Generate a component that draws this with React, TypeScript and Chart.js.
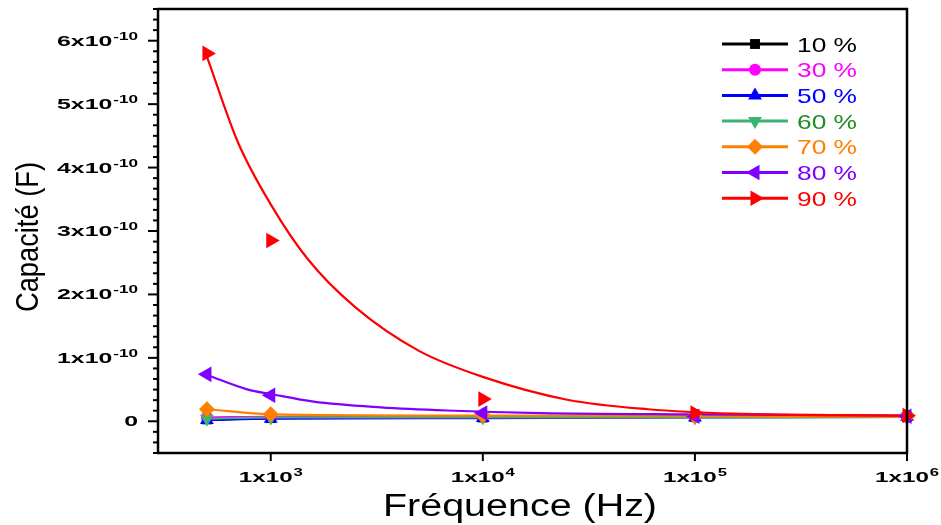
import React, { useEffect, useRef } from 'react';
import { Chart, registerables } from 'chart.js';
import { drawPoint } from 'chart.js/helpers';

Chart.register(...registerables);

// ---- data (capacitance in F, frequency in Hz) ----
const freq = [500, 1000, 10000, 100000, 1000000];
const c10 = [3e-12, 5e-12, 6e-12, 7e-12, 7e-12];
const c30 = [6e-12, 7e-12, 7e-12, 7e-12, 8e-12];
const c50 = [2e-12, 4e-12, 5e-12, 6e-12, 7e-12];
const c60 = [4e-12, 6e-12, 6e-12, 6e-12, 7e-12];
const c70 = [1.9e-11, 1.1e-11, 9e-12, 8e-12, 7e-12];
const c80 = [7.4e-11, 4.1e-11, 1.3e-11, 8e-12, 8e-12];
const c90 = [5.8e-10, 2.85e-10, 3.5e-11, 1.3e-11, 9e-12];

// fitted curves
const fitFreq80 = [500, 780, 1000, 1590, 3300, 6800, 18700, 100000, 1000000];
const fit80 = [7.3e-11, 5.0e-11, 4.3e-11, 3.1e-11, 2.2e-11, 1.7e-11, 1.3e-11, 1.1e-11, 9e-12];
const fitFreq90 = [500, 700, 1000, 1500, 2500, 5000, 10000, 25000, 60000, 150000, 1000000];
const fit90 = [5.75e-10, 4.4e-10, 3.42e-10, 2.55e-10, 1.8e-10, 1.11e-10, 7.0e-11, 3.4e-11, 1.9e-11, 1.2e-11, 9e-12];

const seriesLabels = ['10 %', '30 %', '50 %', '60 %', '70 %', '80 %', '90 %'];
const seriesValues = [c10, c30, c50, c60, c70, c80, c90];

const yMajorTicks = [0, 1e-10, 2e-10, 3e-10, 4e-10, 5e-10, 6e-10];
const yTickCoefs = ['0', '1', '2', '3', '4', '5', '6'];
const yTickExp = '-10';
const xMajorTicks = [1e3, 1e4, 1e5, 1e6];
const xTickExps = ['3', '4', '5', '6'];
const xTitle = 'Fréquence (Hz)';
const yTitle = 'Capacité (F)';

// ---- styles ----
const lineColors = ['#000000', '#FF00FF', '#0000FF', '#3CB371', '#FF8000', '#8000FF', '#FF0000'];
const textColors = ['#000000', '#FF00FF', '#0000FF', '#228B22', '#FF8000', '#8000FF', '#FF0000'];
const pointStyles = ['rect', 'circle', 'triangle', 'triangle', 'rectRot', 'triangle', 'triangle'];
const rotations = [0, 0, 0, 180, 0, -90, 90];
const radii = [7, 6, 8, 8, 8, 9, 9];

const FONT = '"Liberation Sans", Arial, Helvetica, sans-serif';

function measureSup(ctx: CanvasRenderingContext2D, base: string, sup: string, mainPx: number, supPx: number) {
  ctx.font = `bold ${mainPx}px ${FONT}`;
  const wb = ctx.measureText(base).width;
  let ws = 0;
  if (sup) {
    ctx.font = `bold ${supPx}px ${FONT}`;
    ws = ctx.measureText(sup).width + 0.5;
  }
  return { wb, ws, total: wb + ws };
}

function paintSup(ctx: CanvasRenderingContext2D, base: string, sup: string, x: number, baseline: number, sx: number, mainPx: number, supPx: number, rise: number) {
  const m = measureSup(ctx, base, sup, mainPx, supPx);
  ctx.save();
  ctx.translate(x, baseline);
  ctx.scale(sx, 1);
  ctx.textAlign = 'left';
  ctx.textBaseline = 'alphabetic';
  ctx.font = `bold ${mainPx}px ${FONT}`;
  ctx.fillText(base, 0, 0);
  if (sup) {
    ctx.font = `bold ${supPx}px ${FONT}`;
    ctx.fillText(sup, m.wb + 0.5, -rise);
  }
  ctx.restore();
}

const decorPlugin = {
  id: 'decor',
  afterDraw(chart: any) {
    const ctx: CanvasRenderingContext2D = chart.ctx;
    const { left, right, top, bottom } = chart.chartArea;
    const xs = chart.scales.x;
    const ys = chart.scales.y;
    ctx.save();
    ctx.fillStyle = '#000';
    ctx.strokeStyle = '#000';

    // frame
    ctx.lineWidth = 2.5;
    ctx.strokeRect(left, top, right - left, bottom - top);

    // y ticks
    ctx.lineWidth = 2;
    const step = 1e-10 / 6;
    for (let k = -3; k <= 39; k++) {
      const v = k * step;
      const py = ys.getPixelForValue(v);
      if (py < top - 1 || py > bottom + 1) continue;
      const major = k % 6 === 0;
      ctx.beginPath();
      ctx.moveTo(left - (major ? 10 : 5), py);
      ctx.lineTo(left, py);
      ctx.stroke();
    }
    // x ticks
    xMajorTicks.forEach((v) => {
      const px = xs.getPixelForValue(v);
      ctx.beginPath();
      ctx.moveTo(px, bottom);
      ctx.lineTo(px, bottom + 8);
      ctx.stroke();
    });

    // y labels
    const yMain = 14.5, ySup = 10, yRise = 6;
    const refY = measureSup(ctx, '6x10', yTickExp, yMain, ySup);
    const sxY = 81 / refY.total;
    yMajorTicks.forEach((v, i) => {
      const py = ys.getPixelForValue(v);
      const base = yTickCoefs[i] === '0' ? '0' : `${yTickCoefs[i]}x10`;
      const sup = yTickCoefs[i] === '0' ? '' : yTickExp;
      const m = measureSup(ctx, base, sup, yMain, ySup);
      const w = m.total * sxY;
      paintSup(ctx, base, sup, 138 - w, py + 5, sxY, yMain, ySup, yRise);
    });

    // x labels
    const xMain = 14.5, xSup = 10, xRise = 6;
    const refX = measureSup(ctx, '1x10', '3', xMain, xSup);
    const sxX = 64 / refX.total;
    xMajorTicks.forEach((v, i) => {
      const px = xs.getPixelForValue(v);
      const m = measureSup(ctx, '1x10', xTickExps[i], xMain, xSup);
      const w = m.total * sxX;
      paintSup(ctx, '1x10', xTickExps[i], px - w / 2, 482, sxX, xMain, xSup, xRise);
    });

    // x title
    ctx.font = `31px ${FONT}`;
    const wxt = ctx.measureText(xTitle).width;
    ctx.save();
    ctx.translate(520, 516);
    ctx.scale(274 / wxt, 1);
    ctx.textAlign = 'center';
    ctx.textBaseline = 'alphabetic';
    ctx.fillText(xTitle, 0, 0);
    ctx.restore();

    // y title
    ctx.font = `32px ${FONT}`;
    const wyt = ctx.measureText(yTitle).width;
    ctx.save();
    ctx.translate(38, 237);
    ctx.rotate(-Math.PI / 2);
    ctx.scale(150 / wyt, 1);
    ctx.textAlign = 'center';
    ctx.textBaseline = 'alphabetic';
    ctx.fillText(yTitle, 0, 0);
    ctx.restore();

    // legend
    ctx.font = `21px ${FONT}`;
    const wl = ctx.measureText('10 %').width;
    const sxL = 60 / wl;
    seriesLabels.forEach((lab, i) => {
      const ry = 44 + i * 25.7;
      ctx.strokeStyle = lineColors[i];
      ctx.lineWidth = 3;
      ctx.beginPath();
      ctx.moveTo(722, ry);
      ctx.lineTo(788, ry);
      ctx.stroke();
      ctx.fillStyle = lineColors[i];
      drawPoint(ctx, { pointStyle: pointStyles[i], rotation: rotations[i], radius: radii[i], borderWidth: 0 } as any, 755, ry);
      ctx.fillStyle = textColors[i];
      ctx.save();
      ctx.translate(797, ry + 7.5);
      ctx.scale(sxL, 1);
      ctx.font = `21px ${FONT}`;
      ctx.textAlign = 'left';
      ctx.textBaseline = 'alphabetic';
      ctx.fillText(lab, 0, 0);
      ctx.restore();
    });

    ctx.restore();
  },
};

export default function App() {
  const ref = useRef<HTMLCanvasElement | null>(null);
  useEffect(() => {
    if (!ref.current) return;
    const lineSets: any[] = seriesValues.map((vals, i) => {
      let fx = freq, fy = vals;
      if (i === 5) { fx = fitFreq80; fy = fit80; }
      if (i === 6) { fx = fitFreq90; fy = fit90; }
      return {
        type: 'line',
        label: seriesLabels[i] + ' fit',
        data: fx.map((f, j) => ({ x: f, y: fy[j] })),
        borderColor: lineColors[i],
        borderWidth: 2.2,
        pointRadius: 0,
        showLine: true,
        cubicInterpolationMode: 'monotone',
        fill: false,
        clip: false,
        order: 20 - i,
      };
    });
    const markerSets: any[] = seriesValues.map((vals, i) => ({
      type: 'line',
      label: seriesLabels[i],
      data: freq.map((f, j) => ({ x: f, y: vals[j] })),
      showLine: false,
      pointStyle: pointStyles[i],
      rotation: rotations[i],
      pointRadius: radii[i],
      pointBackgroundColor: lineColors[i],
      pointBorderColor: lineColors[i],
      pointBorderWidth: 0,
      clip: false,
      order: 10 - i,
    }));
    const chart = new Chart(ref.current, {
      type: 'line',
      data: { datasets: [...lineSets, ...markerSets] },
      options: {
        animation: false,
        responsive: true,
        maintainAspectRatio: false,
        layout: { padding: { top: 7, right: 34, left: 0, bottom: 0 } },
        plugins: { legend: { display: false }, tooltip: { enabled: false } },
        scales: {
          x: {
            type: 'logarithmic',
            min: 294,
            max: 1000000,
            ticks: { display: false },
            grid: { display: false },
            border: { display: false },
            afterFit: (s: any) => { s.height = 72; },
          },
          y: {
            type: 'linear',
            min: -0.5e-10,
            max: 6.5e-10,
            ticks: { display: false },
            grid: { display: false },
            border: { display: false },
            afterFit: (s: any) => { s.width = 158; },
          },
        },
      } as any,
      plugins: [decorPlugin],
    });
    return () => chart.destroy();
  }, []);
  return (
    <div style={{ position: 'fixed', left: 0, top: 0, width: 941, height: 525, background: '#fff' }}>
      <canvas ref={ref} />
    </div>
  );
}
